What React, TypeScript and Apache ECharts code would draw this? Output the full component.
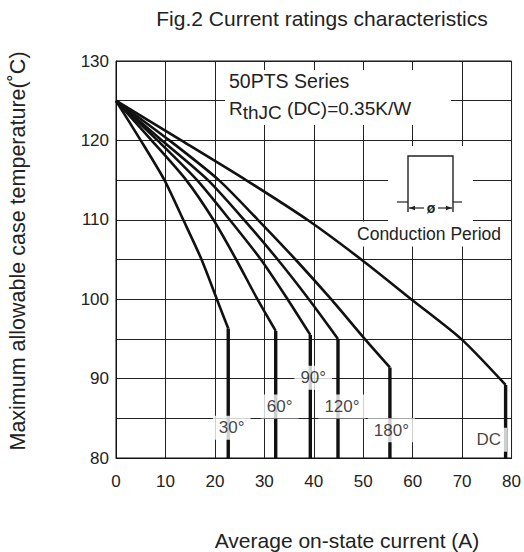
import React, { useEffect, useRef } from 'react';
import * as echarts from 'echarts';

// ---- data ----
const curveNames = ['30°', '60°', '90°', '120°', '180°', 'DC'];
const current30 = [0, 5.0, 9.8, 13.6, 17.3, 20.4, 22.7];
const temp30 = [125, 120, 115, 110, 105, 100, 96.3];
const current60 = [0, 7.2, 14.2, 19.7, 24.3, 28.6, 32.3];
const temp60 = [125, 120, 115, 110, 105, 100, 96.0];
const current90 = [0, 8.4, 16.4, 23.0, 29.3, 34.7, 39.3];
const temp90 = [125, 120, 115, 110, 105, 100, 95.5];
const current120 = [0, 9.3, 18.6, 25.9, 32.7, 39.0, 44.9];
const temp120 = [125, 120, 115, 110, 105, 100, 95.0];
const current180 = [0, 10.8, 20.8, 28.7, 36.3, 43.5, 50.3, 55.4];
const temp180 = [125, 120, 115, 110, 105, 100, 95, 91.4];
const currentDC = [0, 13.2, 26.3, 38.7, 49.6, 59.7, 69.8, 78.8];
const tempDC = [125, 120, 115, 110, 105, 100, 95, 89.2];

const labelCurrent = [23.4, 33.1, 39.9, 45.7, 55.7, 75.4];
const labelTemp = [83.8, 86.5, 90.1, 86.5, 83.5, 82.3];

const xMin = 0, xMax = 80, xStep = 10;
const yMin = 80, yMax = 130, yStep = 5, yLabelStep = 10;

const FONT = '"Liberation Sans", Arial, Helvetica, sans-serif';

const curves = [
  [current30, temp30],
  [current60, temp60],
  [current90, temp90],
  [current120, temp120],
  [current180, temp180],
  [currentDC, tempDC],
];

export default function App() {
  const ref = useRef<HTMLDivElement>(null);
  useEffect(() => {
    const chart = echarts.init(ref.current!, null, { renderer: 'svg' });
    const series: any[] = [];
    curves.forEach(([xs, ys], i) => {
      const pts = xs.map((x, k) => [x, ys[k]]);
      series.push({
        name: curveNames[i],
        type: 'line',
        data: pts,
        smooth: 0.25,
        symbol: 'none',
        lineStyle: { color: '#111', width: 2.6 },
        z: 3,
      });
      const last = pts[pts.length - 1];
      series.push({
        name: curveNames[i] + ' limit',
        type: 'line',
        data: [last, [last[0], yMin]],
        symbol: 'none',
        lineStyle: { color: '#111', width: 3.4 },
        z: 3,
      });
    });
    series.push({
      type: 'scatter',
      symbolSize: 1,
      itemStyle: { color: 'rgba(0,0,0,0)' },
      data: labelCurrent.map((x, i) => [x, labelTemp[i], curveNames[i]]),
      label: {
        show: true,
        position: 'inside',
        formatter: (p: any) => p.data[2],
        color: '#111',
        fontSize: 17,
        fontFamily: FONT,
        backgroundColor: '#fff',
        padding: [4, 6, 3, 6],
      },
      z: 10,
    });

    chart.setOption({
      animation: false,
      backgroundColor: '#fff',
      grid: { left: 116, top: 61, width: 396, height: 397, show: true, borderColor: '#111', borderWidth: 1 },
      xAxis: {
        type: 'value', min: xMin, max: xMax, interval: xStep,
        axisLine: { show: true, lineStyle: { color: '#111' } },
        axisTick: { show: false },
        axisLabel: { color: '#222', fontSize: 17, fontFamily: FONT, margin: 15 },
        splitLine: { show: true, lineStyle: { color: '#222', width: 1 } },
      },
      yAxis: {
        type: 'value', min: yMin, max: yMax, interval: yStep,
        axisLine: { show: true, lineStyle: { color: '#111' } },
        axisTick: { show: false },
        axisLabel: {
          color: '#222', fontSize: 17, fontFamily: FONT, margin: 7,
          formatter: (v: number) => (v % yLabelStep === 0 ? String(v) : ''),
        },
        splitLine: { show: true, lineStyle: { color: '#222', width: 1 } },
      },
      series,
      graphic: [
        { type: 'text', x: 322, y: 18, style: { text: 'Fig.2 Current ratings characteristics', fontSize: 21, fontFamily: FONT, fill: '#222', align: 'center', verticalAlign: 'middle' } },
        { type: 'text', x: 18, y: 251, rotation: Math.PI / 2, style: { text: 'Maximum allowable case temperature(˚C)', fontSize: 21.5, fontFamily: FONT, fill: '#222', align: 'center', verticalAlign: 'middle' } },
        { type: 'text', x: 347, y: 540, style: { text: 'Average on-state current (A)', fontSize: 21, fontFamily: FONT, fill: '#222', align: 'center', verticalAlign: 'middle' } },
        // annotation box
        { type: 'rect', shape: { x: 225, y: 70, width: 226, height: 55 }, style: { fill: '#fff' }, z: 100 },
        { type: 'text', x: 229, y: 81, z: 101, style: { text: '50PTS Series', fontSize: 19.5, fontFamily: FONT, fill: '#222', verticalAlign: 'middle' } },
        { type: 'text', x: 229, y: 108, z: 101, style: {
          text: '{a|R}{b|thJC}{a| (DC)=0.35K/W}',
          fontFamily: FONT, verticalAlign: 'middle',
          rich: {
            a: { fontSize: 19, fontFamily: FONT, fill: '#222' },
            b: { fontSize: 19, fontFamily: FONT, fill: '#222', padding: [9, 0, 0, 0] },
          },
        } },
        // conduction period inset
        { type: 'rect', shape: { x: 388, y: 146, width: 85, height: 78 }, style: { fill: '#fff' }, z: 100 },
        { type: 'polyline', shape: { points: [[408, 212], [408, 156], [453, 156], [453, 212]] }, style: { stroke: '#222', lineWidth: 1.4, fill: null }, z: 101 },
        { type: 'line', shape: { x1: 397, y1: 202, x2: 408, y2: 202 }, style: { stroke: '#222', lineWidth: 1.2 }, z: 101 },
        { type: 'line', shape: { x1: 453, y1: 202, x2: 462, y2: 202 }, style: { stroke: '#222', lineWidth: 1.2 }, z: 101 },
        { type: 'line', shape: { x1: 409, y1: 208, x2: 424, y2: 208 }, style: { stroke: '#222', lineWidth: 1.2 }, z: 101 },
        { type: 'line', shape: { x1: 438, y1: 208, x2: 452, y2: 208 }, style: { stroke: '#222', lineWidth: 1.2 }, z: 101 },
        { type: 'polygon', shape: { points: [[409, 208], [415, 205.8], [415, 210.2]] }, style: { fill: '#222' }, z: 101 },
        { type: 'polygon', shape: { points: [[452, 208], [446, 205.8], [446, 210.2]] }, style: { fill: '#222' }, z: 101 },
        { type: 'text', x: 431, y: 208, z: 101, style: { text: 'ø', fontSize: 14, fontWeight: 'bold', fontFamily: FONT, fill: '#222', align: 'center', verticalAlign: 'middle' } },
        { type: 'text', x: 429, y: 234, z: 101, style: { text: 'Conduction Period', fontSize: 17.5, fontFamily: FONT, fill: '#222', align: 'center', verticalAlign: 'middle', backgroundColor: '#fff', padding: [3, 4, 4, 4] } },
      ],
    });
    return () => chart.dispose();
  }, []);
  return <div ref={ref} style={{ position: 'fixed', left: 0, top: 0, width: 524, height: 552 }} />;
}
